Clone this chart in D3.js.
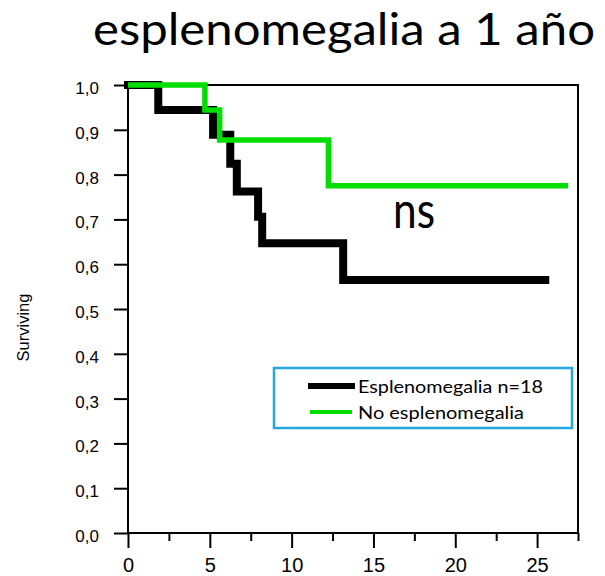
<!DOCTYPE html>
<html>
<head>
<meta charset="utf-8">
<script src="https://cdn.jsdelivr.net/npm/d3@7/dist/d3.min.js"></script>
<style>
  html, body { margin: 0; padding: 0; background: #fff; }
  svg { display: block; }
</style>
</head>
<body>
<svg id="chart" width="605" height="576"></svg>
<script>
// Kaplan–Meier steps: time (months) at which each level starts, and the surviving fraction
const splenoTimes = [0, 1.85, 5.2, 6.25, 6.65, 7.95, 8.2, 13.15, 25.5];
const splenoSurv  = [1.0, 0.944, 0.889, 0.824, 0.762, 0.706, 0.647, 0.565, 0.565];

const noSplenoTimes = [0, 4.7, 5.6, 12.25, 26.9];
const noSplenoSurv  = [1.0, 0.944, 0.877, 0.775, 0.775];

const seriesNames = ["Esplenomegalia n=18", "No esplenomegalia"];

const yTickValues = [0, 0.1, 0.2, 0.3, 0.4, 0.5, 0.6, 0.7, 0.8, 0.9, 1.0];
const xMajorTicks = [0, 5, 10, 15, 20, 25];
const xMinorTicks = [2.5, 7.5, 12.5, 17.5, 22.5, 27.5];
const xMax = 27.5;

const titleText = "esplenomegalia a 1 año";
const yAxisLabel = "Surviving";
const testLabel = "ns";

const svg = d3.select("#chart");

const x = d3.scaleLinear().domain([0, xMax]).range([128, 578]);
const y = d3.scaleLinear().domain([0, 1]).range([533, 85]);

const sansUI = "Lato, 'Open Sans', sans-serif";
const sansAxis = "'Liberation Sans', Arial, sans-serif";

// Title
svg.append("text")
  .attr("x", 93).attr("y", 45)
  .attr("font-family", sansUI)
  .attr("font-size", 45)
  .attr("textLength", 502)
  .attr("lengthAdjust", "spacingAndGlyphs")
  .attr("fill", "#000")
  .text(titleText);

// Plot frame
svg.append("rect")
  .attr("x", x(0)).attr("y", y(1))
  .attr("width", x(xMax) - x(0)).attr("height", y(0) - y(1))
  .attr("fill", "none").attr("stroke", "#000").attr("stroke-width", 2);

// Y axis
const yAxis = d3.axisLeft(y)
  .tickValues(yTickValues)
  .tickSize(14)
  .tickPadding(15)
  .tickFormat(d => d.toFixed(1).replace(".", ","));

svg.append("g")
  .attr("transform", `translate(${x(0)},0)`)
  .call(yAxis)
  .call(g => g.select(".domain").remove())
  .call(g => g.selectAll("line").attr("stroke", "#000").attr("stroke-width", 2))
  .call(g => g.selectAll("text")
    .attr("dy", "0.5em")
    .attr("font-family", sansAxis)
    .attr("font-size", 17)
    .attr("fill", "#000"));

// X axis: labelled major ticks and short minor ticks
svg.append("g")
  .attr("transform", `translate(0,${y(0)})`)
  .call(d3.axisBottom(x).tickValues(xMajorTicks).tickSize(15).tickPadding(10))
  .call(g => g.select(".domain").remove())
  .call(g => g.selectAll("line").attr("stroke", "#000").attr("stroke-width", 2))
  .call(g => g.selectAll("text")
    .attr("font-family", sansAxis)
    .attr("font-size", 20)
    .attr("fill", "#000"));

svg.append("g")
  .attr("transform", `translate(0,${y(0)})`)
  .call(d3.axisBottom(x).tickValues(xMinorTicks).tickSize(8).tickFormat(""))
  .call(g => g.select(".domain").remove())
  .call(g => g.selectAll("line").attr("stroke", "#000").attr("stroke-width", 2));

// Y axis title
svg.append("text")
  .attr("transform", "translate(28.5,327.5) rotate(-90)")
  .attr("text-anchor", "middle")
  .attr("font-family", sansAxis)
  .attr("font-size", 16.5)
  .attr("fill", "#000")
  .text(yAxisLabel);

// Survival step curves
const step = d3.line()
  .x(d => x(d[0]))
  .y(d => y(d[1]))
  .curve(d3.curveStepAfter);

svg.append("path")
  .datum(d3.zip(splenoTimes, splenoSurv))
  .attr("d", step)
  .attr("fill", "none")
  .attr("stroke", "#000")
  .attr("stroke-width", 8)
  .attr("stroke-linejoin", "miter")
  .attr("stroke-linecap", "square");

svg.append("path")
  .datum(d3.zip(noSplenoTimes, noSplenoSurv))
  .attr("d", step)
  .attr("fill", "none")
  .attr("stroke", "#00dd00")
  .attr("stroke-width", 5.5)
  .attr("stroke-linejoin", "miter")
  .attr("stroke-linecap", "butt");

// Significance note
svg.append("text")
  .attr("x", 393).attr("y", 228)
  .attr("font-family", sansUI)
  .attr("font-size", 51)
  .attr("textLength", 42)
  .attr("lengthAdjust", "spacingAndGlyphs")
  .attr("fill", "#000")
  .text(testLabel);

// Legend
const legend = svg.append("g");
legend.append("rect")
  .attr("x", 274).attr("y", 368).attr("width", 298).attr("height", 60)
  .attr("fill", "#fff").attr("stroke", "#22a7e0").attr("stroke-width", 2.5);

const legendItems = [
  { name: seriesNames[0], color: "#000", width: 6, x1: 308, x2: 355, cy: 386, base: 393, len: 185 },
  { name: seriesNames[1], color: "#00dd00", width: 4, x1: 310, x2: 352, cy: 412, base: 419, len: 166 }
];

legendItems.forEach(it => {
  legend.append("line")
    .attr("x1", it.x1).attr("x2", it.x2)
    .attr("y1", it.cy).attr("y2", it.cy)
    .attr("stroke", it.color).attr("stroke-width", it.width);
  legend.append("text")
    .attr("x", 358).attr("y", it.base)
    .attr("font-family", sansUI)
    .attr("font-size", 17)
    .attr("textLength", it.len)
    .attr("lengthAdjust", "spacingAndGlyphs")
    .attr("fill", "#000")
    .text(it.name);
});
</script>
</body>
</html>
